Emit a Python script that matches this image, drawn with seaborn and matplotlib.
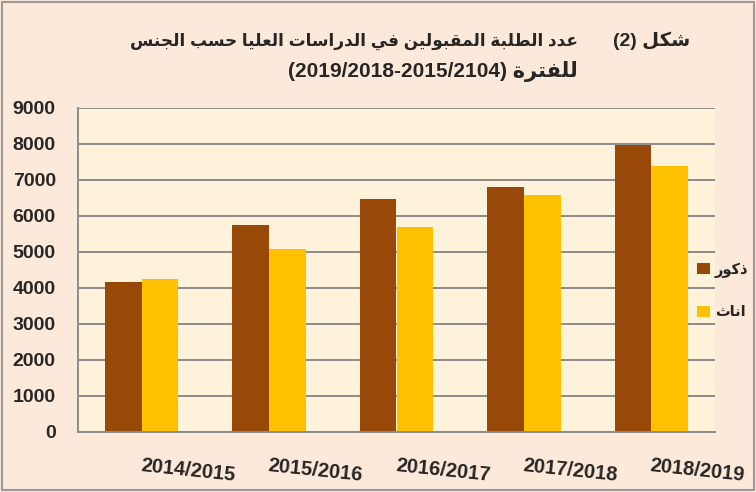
import pandas as pd
import matplotlib.pyplot as plt
import seaborn as sns
from matplotlib.patches import Rectangle

# data
years = ['2014/2015', '2015/2016', '2016/2017', '2017/2018', '2018/2019']
males = [4170, 5740, 6460, 6800, 7980]
females = [4250, 5080, 5690, 6570, 7390]
genders = ['ذكور', 'اناث']

# simple Arabic shaping (presentation forms) + right-to-left ordering
FORMS = {
    'ا': 0xFE8D, 'ب': 0xFE8F, 'ة': 0xFE93, 'ت': 0xFE95, 'ث': 0xFE99, 'ج': 0xFE9D,
    'ح': 0xFEA1, 'د': 0xFEA9, 'ذ': 0xFEAB, 'ر': 0xFEAD, 'س': 0xFEB1, 'ش': 0xFEB5,
    'ط': 0xFEC1, 'ع': 0xFEC9, 'ف': 0xFED1, 'ق': 0xFED5, 'ك': 0xFED9, 'ل': 0xFEDD,
    'م': 0xFEE1, 'ن': 0xFEE5, 'و': 0xFEED, 'ي': 0xFEF1,
}
RIGHT_ONLY = set('اةدذرو')


def ar(text):
    out = []
    for i, ch in enumerate(text):
        if ch not in FORMS:
            out.append(ch)
            continue
        prev = text[i - 1] if i > 0 else ''
        nxt = text[i + 1] if i + 1 < len(text) else ''
        p = prev in FORMS and prev not in RIGHT_ONLY
        n = nxt in FORMS and ch not in RIGHT_ONLY
        base = FORMS[ch]
        if p and n:
            code = base + 3
        elif p:
            code = base + 1
        elif n:
            code = base + 2
        else:
            code = base
        out.append(chr(code))
    return ''.join(out)[::-1]


df = pd.DataFrame({
    'year': years * 2,
    'count': males + females,
    'gender': [genders[0]] * len(years) + [genders[1]] * len(years),
})

BROWN = '#984807'
YELLOW = '#FFC000'
FIG_BG = '#FDE9DA'
AX_BG = '#FEF3DA'
GRID = '#8C8C8C'

sns.set_theme(style='white')
plt.rcParams['font.family'] = ['Liberation Sans', 'DejaVu Sans']

fig = plt.figure(figsize=(7.56, 4.92), dpi=100, facecolor=FIG_BG)
ax = fig.add_axes([78 / 756, 1 - 432 / 492, (715 - 78) / 756, (432 - 108) / 492])
ax.set_facecolor(AX_BG)

sns.barplot(data=df, x='year', y='count', hue='gender', palette=[BROWN, YELLOW],
            width=0.575, gap=0, saturation=1, linewidth=0, ax=ax, legend=True)

ax.set_ylim(0, 9000)
ax.set_xlim(-0.5, 4.5)
ax.set_yticks(range(0, 9001, 1000))
ax.yaxis.grid(True, color=GRID, linewidth=1.4)
ax.set_axisbelow(True)
for s in ['top', 'right']:
    ax.spines[s].set_visible(False)
for s in ['left', 'bottom']:
    ax.spines[s].set_color(GRID)
    ax.spines[s].set_linewidth(1.4)
ax.set_xlabel('')
ax.set_ylabel('')
ax.tick_params(axis='y', length=0, pad=16, labelsize=14)
ax.tick_params(axis='x', length=0, pad=17, labelsize=14.5)
for t in ax.get_yticklabels():
    t.set_fontweight('bold')
ax.set_xticks(range(len(years)))
ax.set_xticklabels(years, rotation=-6, ha='left', va='top', rotation_mode='anchor',
                   fontweight='bold')

handles, labels = ax.get_legend_handles_labels()
ax.legend_.remove()
fig.legend(handles, [ar(l) for l in labels], loc='upper left',
           bbox_to_anchor=(690 / 756, 1 - 255 / 492), frameon=False,
           prop={'weight': 'bold', 'size': 10.5}, handlelength=0.9, handleheight=0.85,
           handletextpad=0.3, labelspacing=1.9, borderpad=0)

# title
fig.text(690 / 756, 1 - 41 / 492, '(2) ' + ar('شكل'), ha='right', va='center',
         fontsize=14, fontweight='bold')
fig.text(578 / 756, 1 - 41 / 492, ar('عدد الطلبة المقبولين في الدراسات العليا حسب الجنس'),
         ha='right', va='center', fontsize=12.2, fontweight='bold')
fig.text(578 / 756, 1 - 71 / 492, '(2019/2018-2015/2104) ' + ar('للفترة'),
         ha='right', va='center', fontsize=15, fontweight='bold')

# outer frame
fig.patches.append(Rectangle((2 / 756, 2 / 492), 1 - 4 / 756, 1 - 4 / 492,
                             transform=fig.transFigure, fill=False,
                             edgecolor='#9A9A9A', linewidth=1.5))

fig.savefig('out.png', dpi=100, facecolor=FIG_BG)
